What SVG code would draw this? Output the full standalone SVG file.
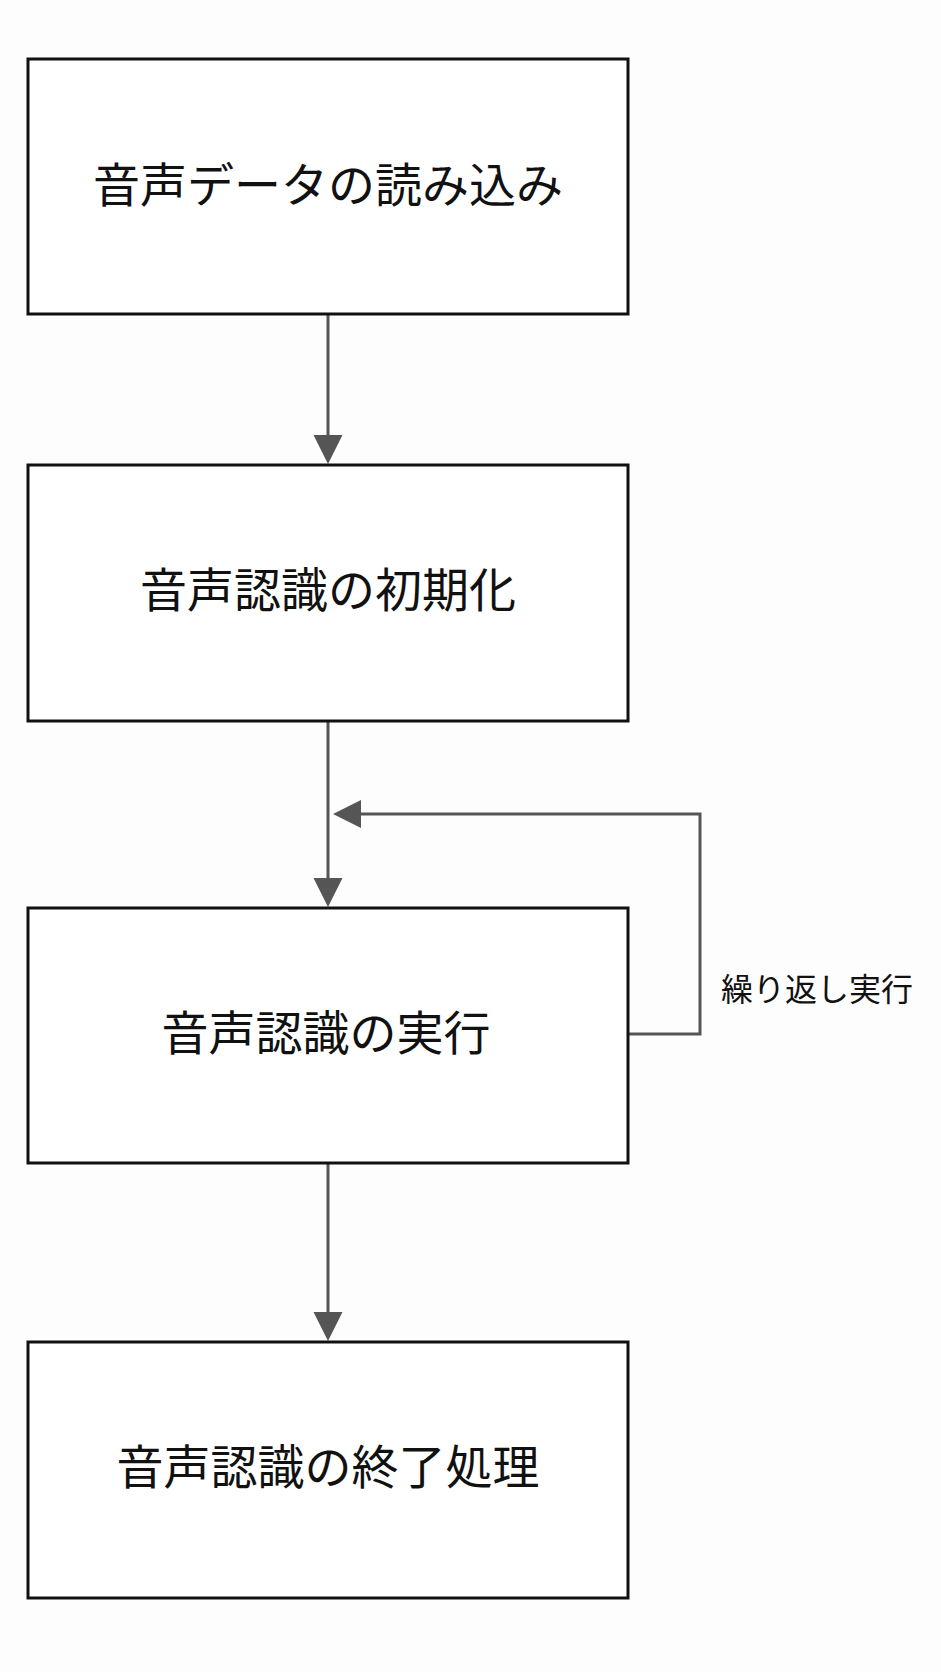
<svg xmlns="http://www.w3.org/2000/svg" width="941" height="1672" viewBox="0 0 941 1672">
<style>
.box{fill:#ffffff;stroke:#111111;stroke-width:3}
.t{font-family:"Noto Sans CJK JP","Noto Sans CJK SC",sans-serif;font-size:47px;fill:#111111;text-anchor:middle}
.lbl{font-family:"Noto Sans CJK JP","Noto Sans CJK SC",sans-serif;font-size:32px;fill:#111111}
.edge{fill:none;stroke:#555555;stroke-width:3}
</style>
<defs>
<marker id="ah" viewBox="0 0 10 10" refX="10" refY="5" markerWidth="10" markerHeight="10" markerUnits="userSpaceOnUse" orient="auto">
<path d="M0,0 L10,5 L0,10 Z" fill="#555555"/>
</marker>
</defs>
<rect width="941" height="1672" fill="#fdfdfd"/>
<g id="connectors">
<line class="edge" x1="328" y1="314" x2="328" y2="437"/>
<polygon points="313.5,435 342.5,435 328,464" fill="#555555"/>
<line class="edge" x1="328" y1="721" x2="328" y2="880"/>
<polygon points="313.5,878 342.5,878 328,907" fill="#555555"/>
<line class="edge" x1="328" y1="1163" x2="328" y2="1314"/>
<polygon points="313.5,1312 342.5,1312 328,1341" fill="#555555"/>
<polyline class="edge" points="628,1034 700,1034 700,814 358,814"/>
<polygon points="361,800 361,828 333,814" fill="#555555"/>
<text class="lbl" x="721" y="1001">繰り返し実行</text>
</g>
<g id="n1">
<rect class="box" x="28" y="59" width="600" height="255"/>
<text class="t" x="328" y="202">音声データの読み込み</text>
</g>
<g id="n2">
<rect class="box" x="28" y="465" width="600" height="256"/>
<text class="t" x="328" y="607">音声認識の初期化</text>
</g>
<g id="n3">
<rect class="box" x="28" y="908" width="600" height="255"/>
<text class="t" x="326" y="1050">音声認識の実行</text>
</g>
<g id="n4">
<rect class="box" x="28" y="1342" width="600" height="256"/>
<text class="t" x="328" y="1484">音声認識の終了処理</text>
</g>
</svg>
